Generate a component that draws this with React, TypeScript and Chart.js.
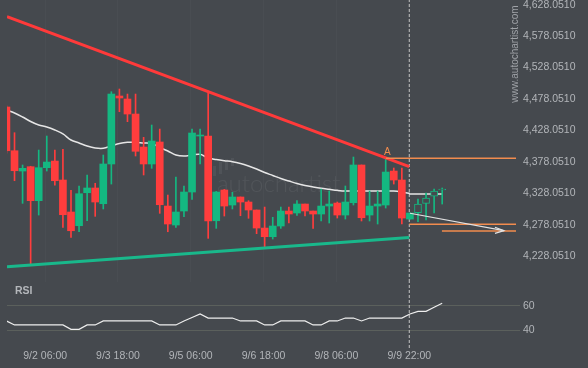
import React, { useEffect, useRef } from 'react';
import { Chart, registerables } from 'chart.js';

Chart.register(...registerables);

// ---------------- data ----------------
const firstCandleIndex = -1; // candle positions run from -1 upward
const forecastStartIndex = 50; // candles from here on are projected (hollow)

const opens = [4465.3, 4395.7, 4363.4, 4370.3, 4316.2, 4368.7, 4379.3, 4349.1, 4298.2, 4276.4, 4328.9, 4336.4, 4311.4, 4374.6, 4482.8, 4478.0, 4454.1, 4401.6, 4374.6, 4409.6, 4307.7, 4277.5, 4299.8, 4330.0, 4419.1, 4419.1, 4284.3, 4333.2, 4309.3, 4322.1, 4314.1, 4301.4, 4272.7, 4258.9, 4275.9, 4299.8, 4296.6, 4310.9, 4299.8, 4295.0, 4307.7, 4312.5, 4293.4, 4313.0, 4373.0, 4293.4, 4307.7, 4309.3, 4363.4, 4349.1, 4287.0, 4297.1, 4312.0, 4323.6, 4333.2];
const highs = [4467.0, 4424.4, 4373.0, 4371.0, 4396.8, 4419.1, 4396.8, 4397.9, 4332.7, 4339.6, 4357.1, 4343.9, 4388.9, 4489.6, 4493.9, 4485.9, 4485.9, 4417.0, 4436.6, 4430.2, 4325.2, 4353.9, 4339.6, 4430.2, 4430.2, 4490.7, 4331.0, 4334.3, 4329.5, 4322.1, 4316.2, 4301.4, 4306.1, 4289.8, 4306.1, 4306.1, 4316.2, 4310.9, 4299.8, 4334.8, 4331.6, 4314.1, 4339.6, 4385.7, 4373.0, 4331.6, 4331.6, 4384.1, 4368.2, 4368.2, 4296.6, 4318.9, 4328.4, 4334.8, 4336.4];
const lows = [4392.0, 4348.0, 4312.0, 4213.9, 4293.4, 4363.4, 4341.1, 4273.8, 4257.9, 4266.8, 4284.3, 4291.3, 4303.0, 4342.7, 4457.8, 4441.9, 4387.3, 4357.1, 4367.7, 4296.1, 4266.8, 4273.8, 4290.7, 4318.4, 4374.6, 4256.3, 4272.2, 4291.8, 4303.0, 4292.3, 4288.2, 4263.7, 4241.4, 4255.2, 4272.2, 4280.7, 4292.9, 4291.8, 4272.2, 4283.9, 4280.7, 4288.6, 4287.0, 4309.3, 4283.9, 4283.9, 4279.1, 4304.5, 4342.7, 4279.1, 4287.0, 4282.7, 4285.5, 4296.6, 4310.9];
const closes = [4395.7, 4363.9, 4367.7, 4316.2, 4368.7, 4377.7, 4348.0, 4293.9, 4268.4, 4327.3, 4336.4, 4314.1, 4374.6, 4485.9, 4479.6, 4454.1, 4394.8, 4374.6, 4411.2, 4309.8, 4279.1, 4298.2, 4330.0, 4423.9, 4420.7, 4283.9, 4330.0, 4307.7, 4322.1, 4314.1, 4301.4, 4272.7, 4258.9, 4275.9, 4299.8, 4295.0, 4310.9, 4299.8, 4295.0, 4307.7, 4310.9, 4293.4, 4314.1, 4373.0, 4289.1, 4307.7, 4310.9, 4361.8, 4349.1, 4288.6, 4296.6, 4310.9, 4320.5, 4331.6, 4333.4];

// moving average, positions -1 .. 49
const maValues = [4460.5, 4455.8, 4449.4, 4442.2, 4436.6, 4433.5, 4428.7, 4422.4, 4412.8, 4408.0, 4403.3, 4400.1, 4399.6, 4403.3, 4407.2, 4409.1, 4409.1, 4408.0, 4407.2, 4400.9, 4395.3, 4388.9, 4387.3, 4388.9, 4390.0, 4384.1, 4381.7, 4379.8, 4378.2, 4375.4, 4371.4, 4366.6, 4361.0, 4356.3, 4351.5, 4347.5, 4343.5, 4340.4, 4338.0, 4335.9, 4334.3, 4332.7, 4331.6, 4331.6, 4331.6, 4331.6, 4331.6, 4331.6, 4331.6, 4330.0, 4327.6];
const forecastMaX = [48.92, 53.1];
const forecastMaY = [4326.8, 4326.8];

// RSI, positions -1 .. 53
const rsiValues = [47.7, 44.4, 44.4, 44.4, 44.4, 44.4, 44.4, 44.4, 40.8, 40.8, 44.4, 44.4, 47.7, 47.7, 47.7, 47.7, 47.7, 47.7, 47.7, 44.4, 44.4, 44.4, 47.7, 50.5, 53.4, 50.1, 50.1, 50.1, 50.1, 47.7, 47.7, 47.7, 44.4, 44.4, 47.7, 47.7, 47.7, 47.7, 44.4, 44.4, 47.7, 47.7, 50.1, 50.1, 47.7, 50.1, 50.1, 50.1, 50.1, 50.1, 53.4, 55.6, 55.6, 58.9, 62.2];

// pattern lines
const resistanceX = [-0.93, 48.92];
const resistanceY = [4609.0, 4370.3];
const supportX = [-0.93, 48.92];
const supportY = [4211.2, 4257.6];
const levelPrices = [4383.7, 4278.6, 4268.0];
const levelStarts = [46.03, 48.92, 52.97];
const levelEnd = 62.15;
const aLabelIndex = 46.2;
const arrowX = [49.01, 60.65];
const arrowY = [4296.2, 4268.5];
const arrowHeadX = [59.54, 60.65, 59.54];
const arrowHeadY = [4273.9, 4268.5, 4264.3];
const nowIndex = 48.92;

// ticks
const priceTicks = [4228.051, 4278.051, 4328.051, 4378.051, 4428.051, 4478.051, 4528.051, 4578.051, 4628.051];
const rsiTicks = [40, 60];
const timeTickPositions = [3.8, 12.82, 21.84, 30.86, 39.88, 48.92];
const timeTickLabels = ['9/2 06:00', '9/3 18:00', '9/5 06:00', '9/6 18:00', '9/8 06:00', '9/9 22:00'];

// ---------------- styling / layout ----------------
const X_MIN = -0.93;
const X_MAX = 62.27;
const PRICE_MIN = 4186.84;
const PRICE_MAX = 4635.53;
const RSI_MIN = 25.43;
const RSI_MAX = 79.75;

const BG = '#45494e';
const RED = '#ff3d3d';
const GREEN = '#14b881';
const TREND_RED = '#ff3a3a';
const TREND_GREEN = '#19b88b';
const ORANGE = '#f28c4e';
const MA_COLOR = '#e6e6e6';
const TICK_COLOR = '#b2b5b9';
const RSI_GRID = '#5b605c';
const NOW_COLOR = '#c4c4c4';
const FONT = "'Liberation Sans', Arial, sans-serif";

const candleX = opens.map((_, k) => firstCandleIndex + k);
const kindOf = (k: number) =>
  candleX[k] >= forecastStartIndex ? 'forecast' : closes[k] >= opens[k] ? 'up' : 'down';
const pick = (kind: string, fn: (x: number, k: number) => any) =>
  candleX.map((x, k) => ({ x, k })).filter(({ k }) => kindOf(k) === kind).map(({ x, k }) => fn(x, k));
const wickData = (kind: string) => pick(kind, (x, k) => ({ x, y: [lows[k], highs[k]] }));
const bodyData = (kind: string) => pick(kind, (x, k) => ({ x, y: [opens[k], closes[k]] }));

const fmtPrice = (v: number) =>
  Number(v).toLocaleString('en-US', { minimumFractionDigits: 4, maximumFractionDigits: 4 });

const line = (data: any[], color: string, width: number, order: number, extra: any = {}) => ({
  type: 'line',
  data,
  borderColor: color,
  borderWidth: width,
  pointRadius: 0,
  fill: false,
  tension: 0,
  order,
  ...extra,
});

const bar = (data: any[], thickness: number, fillColor: string, order: number, extra: any = {}) => ({
  type: 'bar',
  data,
  backgroundColor: fillColor,
  borderWidth: 0,
  borderSkipped: false,
  grouped: false,
  barThickness: thickness,
  minBarLength: 1,
  order,
  ...extra,
});

const mainDecor = {
  id: 'mainDecor',
  beforeDatasetsDraw(chart: any) {
    const { ctx } = chart;
    ctx.save();
    // watermark logo
    ctx.fillStyle = 'rgba(255,255,255,0.06)';
    [[213, 166, 3, 10], [219, 162, 3, 12], [225, 159, 3, 11], [231, 158, 3, 8]].forEach(([x, y, w, h]) =>
      ctx.fillRect(x, y, w, h)
    );
    ctx.font = '300 24px Lato, ' + FONT;
    ctx.fillStyle = 'rgba(255,255,255,0.065)';
    ctx.textAlign = 'left';
    ctx.textBaseline = 'alphabetic';
    ctx.fillText('autochartist', 217, 192);
    // vertical url
    ctx.translate(515, 54);
    ctx.rotate(-Math.PI / 2);
    ctx.font = '10px ' + FONT;
    ctx.fillStyle = '#9fa2a7';
    ctx.textAlign = 'center';
    ctx.textBaseline = 'middle';
    ctx.fillText('www.autochartist.com', 0, 0);
    ctx.restore();
  },
  afterDatasetsDraw(chart: any) {
    const { ctx, scales } = chart;
    ctx.save();
    ctx.font = '10px ' + FONT;
    ctx.fillStyle = ORANGE;
    ctx.textAlign = 'center';
    ctx.textBaseline = 'middle';
    ctx.fillText('A', scales.x.getPixelForValue(aLabelIndex), scales.y.getPixelForValue(levelPrices[0]) - 6);
    ctx.restore();
  },
};

const rsiDecor = {
  id: 'rsiDecor',
  afterDatasetsDraw(chart: any) {
    const { ctx } = chart;
    ctx.save();
    ctx.font = 'bold 10.5px ' + FONT;
    ctx.fillStyle = '#b4b7bb';
    ctx.textAlign = 'left';
    ctx.textBaseline = 'middle';
    ctx.fillText('RSI', 15, 9);
    ctx.restore();
  },
};

function mainConfig(): any {
  const datasets: any[] = [
    line([{ x: nowIndex, y: PRICE_MIN }, { x: nowIndex, y: PRICE_MAX }], NOW_COLOR, 1, 20, { borderDash: [3, 2] }),
    line(maValues.map((y, k) => ({ x: firstCandleIndex + k, y })), MA_COLOR, 1.5, 15, { tension: 0.35 }),
    line(forecastMaX.map((x, k) => ({ x, y: forecastMaY[k] })), MA_COLOR, 1.5, 15),
    bar(wickData('down'), 1, RED, 12),
    bar(wickData('up'), 1, GREEN, 12),
    bar(wickData('forecast'), 1, GREEN, 12),
    bar(bodyData('down'), 7, RED, 10),
    bar(bodyData('up'), 7, GREEN, 10),
    bar(bodyData('forecast'), 7, BG, 10, { borderWidth: 1, borderColor: GREEN }),
    line(resistanceX.map((x, k) => ({ x, y: resistanceY[k] })), TREND_RED, 3, 5),
    line(supportX.map((x, k) => ({ x, y: supportY[k] })), TREND_GREEN, 3, 5),
    ...levelPrices.map((p, k) =>
      line([{ x: levelStarts[k], y: p }, { x: levelEnd, y: p }], ORANGE, 1.5, 4)
    ),
    line(arrowX.map((x, k) => ({ x, y: arrowY[k] })), '#e2e2e2', 1.2, 3),
    line(arrowHeadX.map((x, k) => ({ x, y: arrowHeadY[k] })), '#e2e2e2', 1.2, 3),
  ];
  return {
    type: 'bar',
    data: { datasets },
    options: {
      animation: false,
      responsive: false,
      maintainAspectRatio: false,
      events: [],
      layout: { padding: { left: 7, right: 0, top: 0, bottom: 0 } },
      plugins: { legend: { display: false }, tooltip: { enabled: false } },
      scales: {
        x: {
          type: 'linear',
          min: X_MIN,
          max: X_MAX,
          offset: false,
          grid: { display: true, color: 'rgba(255,255,255,0.022)', drawTicks: false, offset: false },
          border: { display: false },
          ticks: { display: false },
          afterBuildTicks: (s: any) => {
            s.ticks = timeTickPositions.map((v) => ({ value: v }));
          },
          afterFit: (s: any) => {
            s.height = 0;
            s.paddingLeft = 0;
            s.paddingRight = 0;
          },
        },
        y: {
          type: 'linear',
          position: 'right',
          min: PRICE_MIN,
          max: PRICE_MAX,
          grid: { display: false, drawTicks: false },
          border: { display: false },
          ticks: {
            color: TICK_COLOR,
            font: { family: FONT, size: 10.5 },
            padding: 6,
            callback: (v: number) => fmtPrice(v),
          },
          afterBuildTicks: (s: any) => {
            s.ticks = priceTicks.map((v) => ({ value: v }));
          },
          afterFit: (s: any) => {
            s.width = 71;
            s.paddingTop = 0;
            s.paddingBottom = 0;
          },
        },
      },
    },
    plugins: [mainDecor],
  };
}

function rsiConfig(): any {
  return {
    type: 'line',
    data: {
      datasets: [
        line([{ x: nowIndex, y: RSI_MIN }, { x: nowIndex, y: RSI_MAX }], NOW_COLOR, 1, 5, { borderDash: [3, 2] }),
        line(rsiValues.map((y, k) => ({ x: firstCandleIndex + k, y })), '#eeeeee', 1.2, 1),
      ],
    },
    options: {
      animation: false,
      responsive: false,
      maintainAspectRatio: false,
      events: [],
      layout: { padding: { left: 7, right: 0, top: 0, bottom: 0 } },
      plugins: { legend: { display: false }, tooltip: { enabled: false } },
      scales: {
        x: {
          type: 'linear',
          min: X_MIN,
          max: X_MAX,
          offset: false,
          grid: { display: false, drawTicks: false },
          border: { display: false },
          ticks: {
            color: TICK_COLOR,
            font: { family: FONT, size: 10.5 },
            padding: 2,
            autoSkip: false,
            maxRotation: 0,
            callback: (_v: number, i: number) => timeTickLabels[i],
          },
          afterBuildTicks: (s: any) => {
            s.ticks = timeTickPositions.map((v) => ({ value: v }));
          },
          afterFit: (s: any) => {
            s.height = 20;
            s.paddingLeft = 0;
            s.paddingRight = 0;
          },
        },
        y: {
          type: 'linear',
          position: 'right',
          min: RSI_MIN,
          max: RSI_MAX,
          grid: { color: RSI_GRID, drawTicks: true, tickLength: 3, lineWidth: 1 },
          border: { display: false },
          ticks: {
            color: TICK_COLOR,
            font: { family: FONT, size: 10.5 },
            padding: 3,
            callback: (v: number) => String(v),
          },
          afterBuildTicks: (s: any) => {
            s.ticks = rsiTicks.map((v) => ({ value: v }));
          },
          afterFit: (s: any) => {
            s.width = 71;
            s.paddingTop = 0;
            s.paddingBottom = 0;
          },
        },
      },
    },
    plugins: [rsiDecor],
  };
}

export default function App() {
  const mainRef = useRef<HTMLCanvasElement>(null);
  const rsiRef = useRef<HTMLCanvasElement>(null);

  useEffect(() => {
    const main = new Chart(mainRef.current as HTMLCanvasElement, mainConfig());
    const rsi = new Chart(rsiRef.current as HTMLCanvasElement, rsiConfig());
    return () => {
      main.destroy();
      rsi.destroy();
    };
  }, []);

  return (
    <div
      style={{
        position: 'fixed',
        left: 0,
        top: 0,
        width: 588,
        height: 368,
        background: BG,
        overflow: 'hidden',
      }}
    >
      <canvas
        ref={mainRef}
        width={588}
        height={282}
        style={{ position: 'absolute', left: 0, top: 0, width: 588, height: 282 }}
      />
      <canvas
        ref={rsiRef}
        width={588}
        height={86}
        style={{ position: 'absolute', left: 0, top: 282, width: 588, height: 86 }}
      />
    </div>
  );
}
